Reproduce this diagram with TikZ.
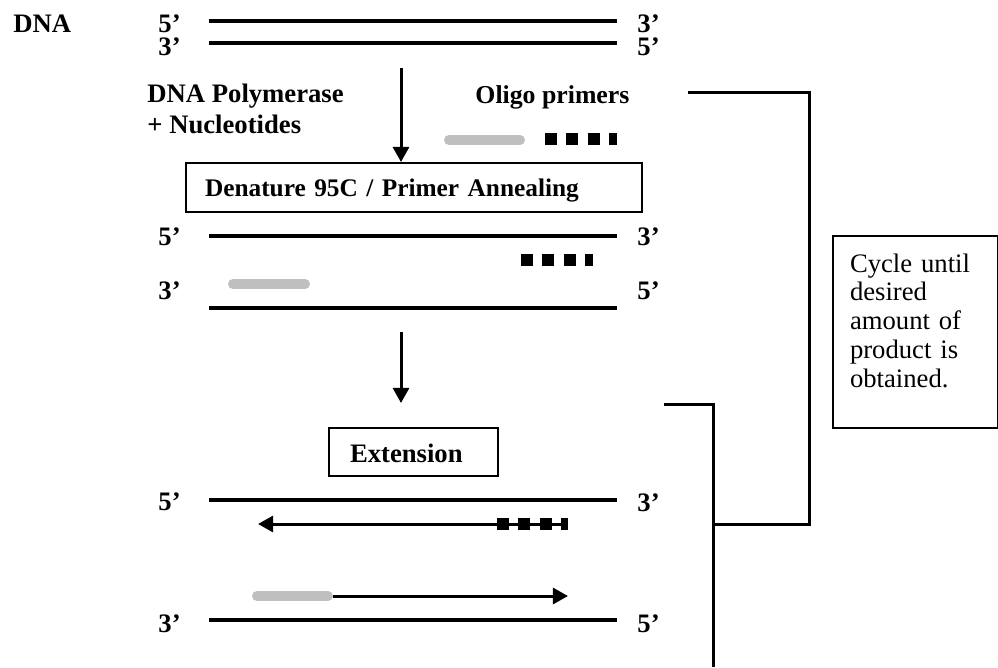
\documentclass[tikz,border=0pt]{standalone}
\usepackage{fontspec}
\setmainfont{Liberation Serif}
\usetikzlibrary{arrows.meta, positioning}
\newcommand*{\pcrsize}{\fontsize{12}{12.95}\selectfont}
\tikzstyle{word} = [anchor=base west, inner sep=0pt, text height=7.6pt, text depth=0pt, font=\pcrsize\bfseries]
\tikzstyle{stepbox} = [
    draw,
    line width=0.9pt,
    anchor=base west,
    inner ysep=0pt,
    align=left,
    font=\pcrsize\bfseries
]
\tikzstyle{note} = [stepbox, font=\pcrsize]
\tikzstyle{strand} = [line width=1.8pt]
\tikzstyle{flow} = [-{Triangle[width=7.2pt, length=6.8pt]}, line width=1.35pt]
\tikzstyle{primer} = [line width=4.5pt, line cap=round, black!25]
\tikzstyle{oligo} = [line width=5.4pt, dash pattern=on 5.4pt off 4.2pt]
\tikzstyle{bracket} = [line width=1.35pt]

\begin{document}
\begin{tikzpicture}[x=0.45pt, y=-0.45pt]
    \useasboundingbox (0, 0) rectangle (998, 667);

    % Strand ends.
    \coordinate (top a left) at (209, 21);
    \coordinate (top a right) at (617, 21);
    \coordinate (top b left) at (209, 43);
    \coordinate (top b right) at (617, 43);
    \coordinate (mid a left) at (209, 236);
    \coordinate (mid a right) at (617, 236);
    \coordinate (mid b left) at (209, 308);
    \coordinate (mid b right) at (617, 308);
    \coordinate (low a left) at (209, 500);
    \coordinate (low a right) at (617, 500);
    \coordinate (low b left) at (209, 620);
    \coordinate (low b right) at (617, 620);

    % Labels.
    \node (dna) [word] at (13, 32) {DNA};
    \node (top a five) [word] at (158, 32) {5'};
    \node (top b three) [word] at (158, 55) {3'};
    \node (top a three) [word] at (637, 32) {3'};
    \node (top b five) [word] at (637, 55) {5'};
    \node (polymerase) [word] at (147, 102) {DNA Polymerase};
    \node (nucleotides) [word] at (147, 133) {+ Nucleotides};
    \node (oligo) [word, font=\fontsize{11.6}{13}\selectfont\bfseries] at (475, 103) {Oligo primers};

    \node (mid a five) [word] at (158, 245) {5'};
    \node (mid b three) [word] at (158, 299) {3'};
    \node (mid a three) [word] at (637, 245) {3'};
    \node (mid b five) [word] at (637, 299) {5'};

    \node (low a five) [word] at (158, 510) {5'};
    \node (low b three) [word] at (158, 632) {3'};
    \node (low a three) [word] at (637, 511) {3'};
    \node (low b five) [word] at (637, 632) {5'};

    % Steps.
    \node (denature) [stepbox, font=\fontsize{11.4}{12}\selectfont\bfseries,
        text width=188.1pt, inner xsep=8.55pt,
        text height=14.85pt, text depth=7.2pt] at (185, 196)
        {Denature 95C / Primer Annealing};
    \node (extension) [stepbox, text width=57.15pt, inner xsep=9.45pt,
        text height=15.3pt, text depth=6.3pt] at (328, 462) {Extension};
    \node (cycle) [note, text width=58.95pt, inner xsep=7.65pt,
        text height=16.2pt, text depth=70.2pt] at (832, 272)
        {Cycle until\\desired\\amount of\\product is\\obtained.};

    % Strands.
    \draw [strand] (top a left) -- (top a right);
    \draw [strand] (top b left) -- (top b right);
    \draw [strand] (mid a left) -- (mid a right);
    \draw [strand] (mid b left) -- (mid b right);
    \draw [strand] (low a left) -- (low a right);
    \draw [strand] (low b left) -- (low b right);

    % Step arrows.
    \coordinate (heat start) at (401, 68);
    \coordinate (ext start) at (401, 332);
    \coordinate (ext end) at (401, 403);
    \draw [flow] (heat start) -- (heat start |- denature.north);
    \draw [flow] (ext start) -- (ext end);

    % Primers.
    \draw [primer] (449, 140) -- (520, 140);
    \draw [oligo] (545, 139) -- (617, 139);
    \draw [primer] (233, 284) -- (305, 284);
    \draw [oligo] (521, 260) -- (593, 260);

    % Extended primers.
    \coordinate (rev tail) at (568, 524);
    \coordinate (rev tip) at (258, 524);
    \draw [flow] (rev tail) -- (rev tip);
    \draw [oligo] (497, 524) -- (rev tail);
    \coordinate (fwd tail) at (333, 596);
    \coordinate (fwd tip) at (568, 596);
    \draw [primer] (257, 596) -- (328, 596);
    \draw [flow] (fwd tail) -- (fwd tip);

    % Brackets.
    \coordinate (loop start) at (688, 92);
    \coordinate (loop turn) at (809, 524);
    \coordinate (loop end) at (713, 524);
    \coordinate (run start) at (664, 404);
    \coordinate (run end) at (713, 667);
    \draw [bracket] (loop start) -| (loop turn) -- (loop end);
    \draw [bracket] (run start) -| (run end);
\end{tikzpicture}
\end{document}
